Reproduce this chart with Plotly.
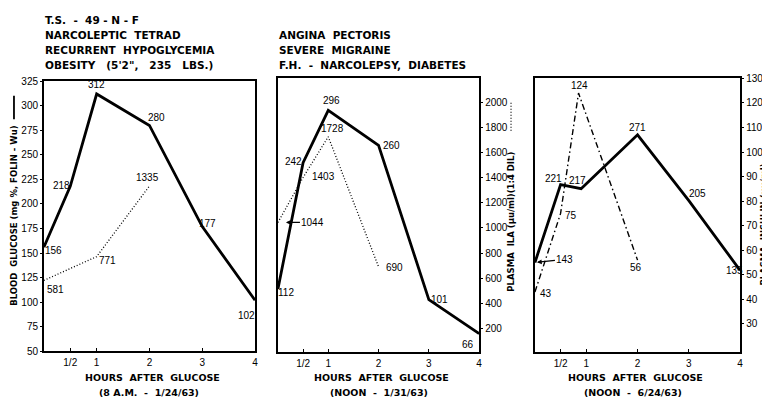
import plotly.graph_objects as go

# ---------------- data ----------------
# Panel 1  (8 A.M. - 1/24/63)
p1_hours = [0, 0.5, 1, 2, 3, 4]
p1_glucose = [156, 218, 312, 280, 177, 102]
p1_ila_hours = [0, 1, 2]
p1_ila = [581, 771, 1335]

# Panel 2  (NOON - 1/31/63)
p2_hours = [0, 0.5, 1, 2, 3, 4]
p2_glucose = [112, 242, 296, 260, 101, 66]
p2_ila_hours = [0, 0.5, 1, 2]
p2_ila = [1044, 1403, 1728, 690]

# Panel 3  (NOON - 6/24/63)
p3_hours = [0, 0.5, 0.9, 2, 3, 4]
p3_glucose = [143, 221, 217, 271, 205, 135]
p3_ins_hours = [0, 0.5, 0.85, 2]
p3_insulin = [43, 75, 124, 56]

x_tickvals = [0.5, 1, 2, 3, 4]
x_ticktext = ["1/2", "1", "2", "3", "4"]
glucose_ticks = [50, 75, 100, 125, 150, 175, 200, 225, 250, 275, 300, 325]
ila_ticks = [200, 400, 600, 800, 1000, 1200, 1400, 1600, 1800, 2000]
insulin_ticks = [30, 40, 50, 60, 70, 80, 90, 100, 110, 120, 130]

NB = "\u00a0"
header_left = ["T.S." + NB * 2 + "-" + NB * 2 + "49" + NB + "-" + NB + "N" + NB + "-" + NB + "F",
               "NARCOLEPTIC" + NB * 2 + "TETRAD",
               "RECURRENT" + NB * 2 + "HYPOGLYCEMIA",
               "OBESITY" + NB * 3 + "(5'2\"," + NB * 3 + "235" + NB * 3 + "LBS.)"]
header_right = ["ANGINA" + NB * 2 + "PECTORIS",
                "SEVERE" + NB * 2 + "MIGRAINE",
                "F.H." + NB * 2 + "-" + NB * 2 + "NARCOLEPSY," + NB * 2 + "DIABETES"]
subtitles = ["(8" + NB + "A.M." + NB * 2 + "-" + NB * 2 + "1/24/63)",
             "(NOON" + NB * 2 + "-" + NB * 2 + "1/31/63)",
             "(NOON" + NB * 2 + "-" + NB * 2 + "6/24/63)"]
xtitle = "HOURS" + NB * 2 + "AFTER" + NB * 2 + "GLUCOSE"
y1title = "BLOOD" + NB * 2 + "GLUCOSE" + NB + "(mg" + NB + "%," + NB + "FOLIN" + NB + "-" + NB + "Wu)"
y2title = "PLASMA" + NB * 2 + "ILA" + NB + "(\u00b5u/ml)(1:4" + NB + "DIL)"
y3title = "PLASMA" + NB * 2 + "INSULIN" + NB + "(\u00b5u/ml)"

# ---------------- layout helpers (window pixels -> paper) ----------------
W, H = 770, 397
OFF = 8  # page offset of the plot div
def fx(px):
    return (px - OFF) / W
def fy(py):
    return 1 - (py - OFF) / H

# label offsets (pixels: dx right, dy down) – styling only
p1_g_off = [(10, 3), (-9, -1), (0, -9), (7, -8), (5, -3), (-9, 15)]
p1_i_off = [(12, 9), (11, 4), (-2, -8)]
p2_g_off = [(8, 4), (-10, -1), (3, -10), (13, 0), (11, 0), (-11, 11)]
p2_i_off = [None, (20, -1), (4, -8), (16, 1)]
p3_g_off = [None, (-7, -6), (-4, -8), (0, -7), (9, -7), (-6, 0)]
p3_i_off = [(11, 1), (10, 2), (1, -8), (-2, 7)]

BLACK = "black"
NUMFONT = dict(family="Liberation Sans", size=10, color=BLACK)
HEADFONT = dict(family="DejaVu Sans", size=10.5, color=BLACK, weight="bold")
LETFONT = dict(family="DejaVu Sans", size=9.5, color=BLACK, weight="bold")
SIDEFONT = dict(family="DejaVu Sans", size=8.5, color=BLACK, weight="bold")

fig = go.Figure()
solid = dict(color=BLACK, width=2.8)
dotted = dict(color=BLACK, width=1.3, dash="1px,2px")
dashdot = dict(color=BLACK, width=1.4, dash="6px,3px,1.5px,3px")

fig.add_trace(go.Scatter(x=p1_hours, y=p1_glucose, xaxis="x", yaxis="y", mode="lines", line=solid))
fig.add_trace(go.Scatter(x=p1_ila_hours, y=p1_ila, xaxis="x", yaxis="y2", mode="lines", line=dotted))
fig.add_trace(go.Scatter(x=p2_hours, y=p2_glucose, xaxis="x2", yaxis="y3", mode="lines", line=solid))
fig.add_trace(go.Scatter(x=p2_ila_hours, y=p2_ila, xaxis="x2", yaxis="y4", mode="lines", line=dotted))
fig.add_trace(go.Scatter(x=p3_hours, y=p3_glucose, xaxis="x3", yaxis="y5", mode="lines", line=solid))
fig.add_trace(go.Scatter(x=p3_ins_hours, y=p3_insulin, xaxis="x3", yaxis="y6", mode="lines", line=dashdot))

ann = []
def labels(xs, ys, offs, xref, yref):
    for x, y, o in zip(xs, ys, offs):
        if o is None:
            continue
        ann.append(dict(x=x, y=y, xref=xref, yref=yref, text=str(y), showarrow=False,
                        xshift=o[0], yshift=-o[1], font=NUMFONT))

labels(p1_hours, p1_glucose, p1_g_off, "x", "y")
labels(p1_ila_hours, p1_ila, p1_i_off, "x", "y2")
labels(p2_hours, p2_glucose, p2_g_off, "x2", "y3")
labels(p2_ila_hours, p2_ila, p2_i_off, "x2", "y4")
labels(p3_hours, p3_glucose, p3_g_off, "x3", "y5")
labels(p3_ins_hours, p3_insulin, p3_i_off, "x3", "y6")

# arrow labels
ann.append(dict(x=p2_ila_hours[0], y=p2_ila[0], xref="x2", yref="y4", text=str(p2_ila[0]),
                showarrow=True, ax=35, ay=0, arrowhead=2, arrowsize=0.8, arrowwidth=1.2,
                standoff=8, arrowcolor=BLACK, font=NUMFONT))
ann.append(dict(x=p3_hours[0], y=p3_glucose[0], xref="x3", yref="y5", text=str(p3_glucose[0]),
                showarrow=True, ax=30, ay=-3, arrowhead=2, arrowsize=0.8, arrowwidth=1.2,
                standoff=2, arrowcolor=BLACK, font=NUMFONT))

# header text
for i, t in enumerate(header_left):
    ann.append(dict(x=fx(43), y=fy(15 + i * 15.4), xref="paper", yref="paper", text=t,
                    showarrow=False, xanchor="left", yanchor="middle", font=HEADFONT))
for i, t in enumerate(header_right):
    ann.append(dict(x=fx(278), y=fy(30.4 + i * 15.4), xref="paper", yref="paper", text=t,
                    showarrow=False, xanchor="left", yanchor="middle", font=HEADFONT))

# x axis titles
for cx, sub in zip([153, 383, 638], subtitles):
    ann.append(dict(x=fx(cx), y=fy(382), xref="paper", yref="paper", text=xtitle,
                    showarrow=False, xanchor="center", yanchor="middle", font=LETFONT,
                    borderpad=0))
    ann.append(dict(x=fx(cx - 3), y=fy(397), xref="paper", yref="paper", text=sub,
                    showarrow=False, xanchor="center", yanchor="middle", font=LETFONT,
                    borderpad=0))

# y axis titles
ann.append(dict(x=fx(14), y=fy(216), xref="paper", yref="paper", textangle=-90, text=y1title,
                showarrow=False, xanchor="center", yanchor="middle", font=SIDEFONT))
ann.append(dict(x=fx(513), y=fy(222), xref="paper", yref="paper", textangle=-90, text=y2title,
                showarrow=False, xanchor="center", yanchor="middle", font=SIDEFONT))
ann.append(dict(x=fx(766), y=fy(225), xref="paper", yref="paper", textangle=-90, text=y3title,
                showarrow=False, xanchor="center", yanchor="middle", font=SIDEFONT))

shapes = [
    dict(type="line", xref="paper", yref="paper", x0=fx(14), x1=fx(14), y0=fy(93), y1=fy(117),
         line=dict(color=BLACK, width=1.8)),
    dict(type="line", xref="paper", yref="paper", x0=fx(513), x1=fx(513), y0=fy(100), y1=fy(130),
         line=dict(color=BLACK, width=1.2, dash="1px,2px")),
]

ax_common = dict(showline=True, linecolor=BLACK, linewidth=1.6, showgrid=False, zeroline=False,
                 tickfont=NUMFONT, tickcolor=BLACK)
xcommon = dict(ax_common, range=[0, 4], tickvals=x_tickvals, ticktext=x_ticktext,
               ticks="inside", ticklen=3, mirror=True, ticklabelstandoff=1)

# pixel extents of the three frames (window coords) and the ILA scale
P1_TOP, P1_BOT = 78, 355
P2_TOP, P2_BOT = 75, 356
P3_TOP, P3_BOT = 75, 356
ila_zero_px, ila_px_per = 357.0, 0.1285

fig.update_layout(
    width=W, height=H, margin=dict(l=0, r=0, t=0, b=0),
    paper_bgcolor="white", plot_bgcolor="white", showlegend=False,
    xaxis=dict(xcommon, domain=[fx(44), fx(256)], anchor="y"),
    yaxis=dict(ax_common, domain=[fy(P1_BOT), fy(P1_TOP)], anchor="x", range=[50, 325],
               tickvals=glucose_ticks, ticks="outside", ticklen=2, mirror=True),
    yaxis2=dict(overlaying="y", anchor="x",
                range=[(ila_zero_px - P1_BOT) / ila_px_per, (ila_zero_px - P1_TOP) / ila_px_per],
                visible=False),
    xaxis2=dict(xcommon, domain=[fx(279), fx(481)], anchor="y3"),
    yaxis3=dict(ax_common, domain=[fy(P2_BOT), fy(P2_TOP)], anchor="x2", range=[46.8, 329],
                showticklabels=False, ticks="", mirror=True),
    yaxis4=dict(ax_common, overlaying="y3", anchor="x2", side="right",
                range=[(ila_zero_px - P2_BOT) / ila_px_per, (ila_zero_px - P2_TOP) / ila_px_per],
                tickvals=ila_ticks, ticks="outside", ticklen=3, showline=False),
    xaxis3=dict(xcommon, domain=[fx(537), fx(743)], anchor="y5"),
    yaxis5=dict(ax_common, domain=[fy(P3_BOT), fy(P3_TOP)], anchor="x3", range=[53, 327.6],
                showticklabels=False, ticks="", mirror=True),
    yaxis6=dict(ax_common, overlaying="y5", anchor="x3", side="right", range=[18.5, 130],
                tickvals=insulin_ticks, ticks="outside", ticklen=3, showline=False),
    annotations=ann, shapes=shapes,
)

fig.write_html("out.html")
